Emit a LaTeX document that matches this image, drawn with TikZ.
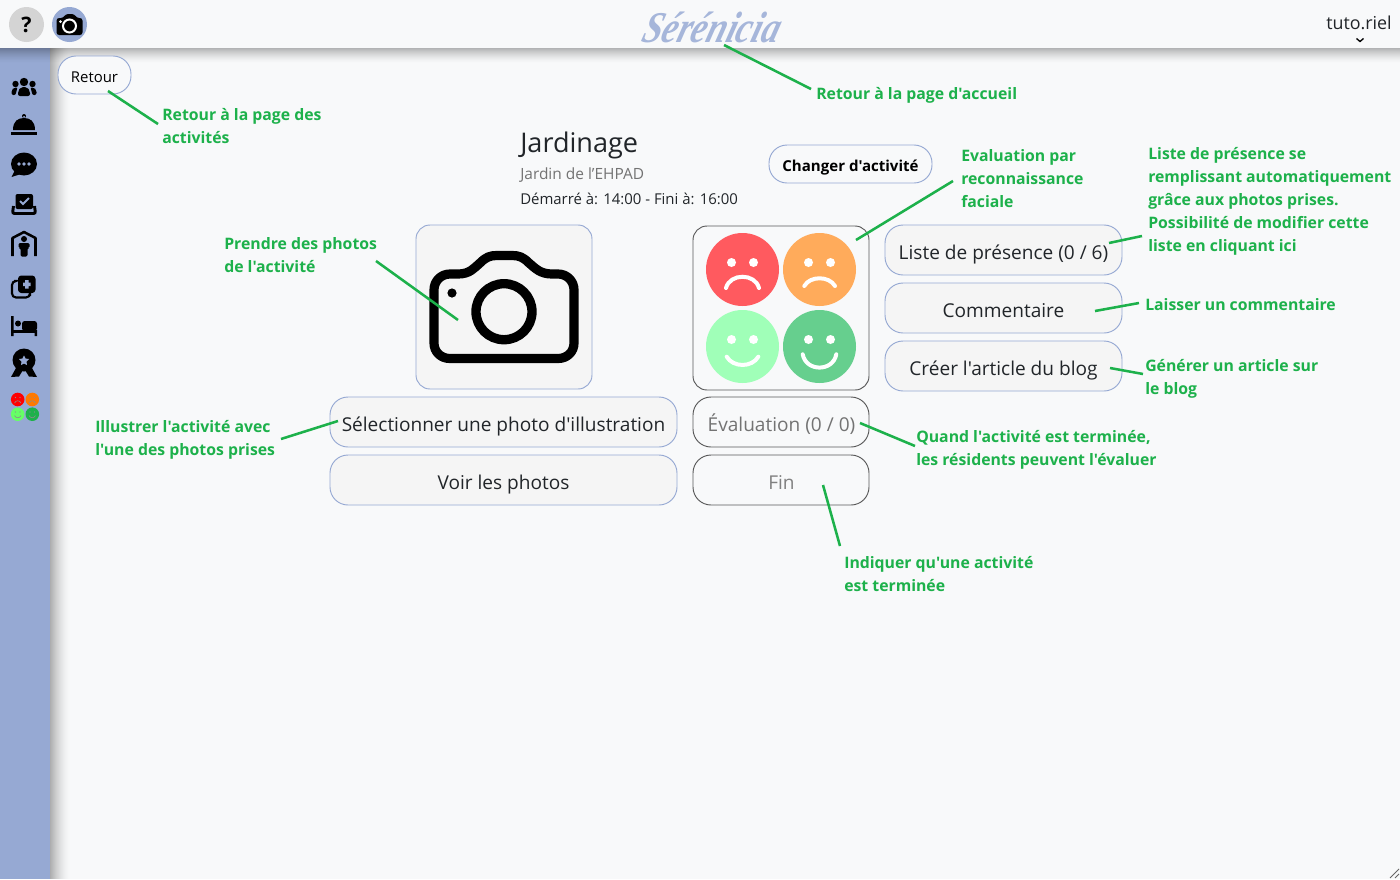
\documentclass[tikz,border=0pt]{standalone}
\usepackage{fontspec}
\newfontfamily\mainf{Open Sans}
\newfontfamily\logofont{Liberation Serif}
\definecolor{bgc}{HTML}{F8F9FA}
\definecolor{blu}{HTML}{96A9D3}
\definecolor{grn}{HTML}{1DB14B}
\definecolor{btn}{HTML}{F5F5F5}
\definecolor{dk}{HTML}{212529}
\definecolor{fr}{HTML}{FF5A5F}
\definecolor{fo}{HTML}{FFAB5B}
\definecolor{fl}{HTML}{A0FFB8}
\definecolor{fg}{HTML}{66CF8E}
\tikzset{
 x=.75pt,y=-.75pt,
 btnbox/.style={draw=blu,fill=btn,line width=.7pt,rounded corners=13.5pt},
 greybox/.style={draw=black!65,fill=bgc,line width=.7pt,rounded corners=13.5pt},
 note/.style={text=grn,font=\mainf\fontsize{11.85pt}{17.25pt}\selectfont\bfseries,anchor=north west,align=left,inner sep=0pt},
 lbl/.style={text=dk,anchor=base,font=\mainf\fontsize{14.3pt}{18pt}\selectfont,inner sep=0pt},
 conn/.style={draw=grn,line width=1.9pt},
 ic/.style={fill=black,draw=none},
 face/.style={draw=white,fill=none,line width=3pt,line cap=round},
 mini/.style={draw=black!45,fill=none,line width=.45pt},
}
\begin{document}
\begin{tikzpicture}
\useasboundingbox (0,0) rectangle (1400,879);
\fill[bgc] (0,0) rectangle (1400,879);
\fill[blu] (0,48) rectangle (50,879);
% shadows
\foreach \i in {0,...,19}{\pgfmathsetmacro\o{0.30*(1-\i/20)^1.6}\fill[black,opacity=\o] (50+\i,48) rectangle (51+\i,879);}
\foreach \i in {0,...,14}{\pgfmathsetmacro\o{0.28*(1-\i/15)^1.5}\fill[black,opacity=\o] (0,48+\i) rectangle (1400,49+\i);}
% top bar
\node[circle,fill=black!17,minimum size=26.25pt,inner sep=0pt,font=\mainf\fontsize{16pt}{16pt}\selectfont\bfseries] (help) at (26.5,24.5) {?};
\fill[blu] (69.5,24.5) circle[radius=17.5];
\begin{scope}[shift={(69.5,25)}]
\fill[black,rounded corners=2pt] (-13,-7) -- (-6,-7) -- (-4,-11) -- (5,-11) -- (7,-7) -- (13,-7) -- (13,10) -- (-13,10) -- cycle;
\draw[white,line width=1.5pt] (0,1) circle[radius=6.5];
\fill[white] (-9,-3.5) circle[radius=1.5];
\end{scope}
\node[inner sep=0pt,text=blu!85!white,font=\logofont\fontsize{33pt}{33pt}\selectfont\itshape\bfseries,xslant=.3,xscale=.8] (logo) at (713,27) {Sérénicia};
\node[inner sep=0pt,anchor=base east,text=dk,font=\mainf\fontsize{13.4pt}{16pt}\selectfont] (user) at (1392,29) {tuto.riel};
\draw[black,line width=1pt] (1356.5,38.5) -- (1360,41.5) -- (1363.5,38.5);
% sidebar icons
\begin{scope}[shift={(24,88)}]
\fill[ic] (0,-6) circle[radius=4.2] (-8.5,-4) circle[radius=3.2] (8.5,-4) circle[radius=3.2];
\fill[ic,rounded corners=1.5pt] (-6,8) -- (-6,3) -- (-3,-1) -- (3,-1) -- (6,3) -- (6,8) -- cycle;
\fill[ic,rounded corners=1.5pt] (-12.5,7) -- (-12.5,2) -- (-10,-.5) -- (-6,-.5) -- (-8,3) -- (-8,7) -- cycle;
\fill[ic,rounded corners=1.5pt] (12.5,7) -- (12.5,2) -- (10,-.5) -- (6,-.5) -- (8,3) -- (8,7) -- cycle;
\end{scope}
\begin{scope}[shift={(24,124)}]
\fill[ic] (0,-8) circle[radius=2] (-1,-8) rectangle (1,-5);
\fill[ic] (-11,6) .. controls (-11,-3) and (-6,-6) .. (0,-6) .. controls (6,-6) and (11,-3) .. (11,6) -- cycle;
\fill[ic] (-13,8) rectangle (13,10.5);
\end{scope}
\begin{scope}[shift={(24,165)}]
\fill[ic] (0,-1) ellipse[x radius=13,y radius=11.5];
\fill[ic] (-9,5) -- (-12.5,12) -- (-3,9) -- cycle;
\fill[blu] (-5,-1) circle[radius=1.8] (0,-1) circle[radius=1.8] (5,-1) circle[radius=1.8];
\end{scope}
\begin{scope}[shift={(24,204)}]
\fill[ic,rounded corners=1.5pt] (-8.5,-10) rectangle (9,5);
\draw[blu,line width=1.5pt] (-4,-3) -- (-1,0) -- (5,-6);
\draw[black,line width=2.2pt,rounded corners=1.5pt] (-10.5,2) -- (-11.5,9.5) -- (11.5,9.5) -- (10.5,2);
\end{scope}
\begin{scope}[shift={(24,245)}]
\draw[black,line width=1.9pt,line join=round] (-11.5,11) -- (-11.5,-7) -- (0,-13) -- (11.5,-7) -- (11.5,11);
\fill[ic] (0,-6) circle[radius=3];
\fill[ic,rounded corners=1pt] (-5.5,-2) -- (5.5,-2) -- (5.5,3) -- (3.5,3) -- (3.5,11.5) -- (-3.5,11.5) -- (-3.5,3) -- (-5.5,3) -- cycle;
\end{scope}
\begin{scope}[shift={(24,287)}]
\fill[ic,rounded corners=2.5pt] (-6,-11.5) rectangle (11.5,6);
\fill[blu] (-1,-4.5) rectangle (6.5,-1) (1,-7) rectangle (4.5,1.5);
\draw[black,line width=1.6pt,rounded corners=3pt] (-10,-6) -- (-12,-6) -- (-12,10.5) -- (6,10.5) -- (6,9);
\end{scope}
\begin{scope}[shift={(24,326)}]
\fill[ic] (-13,-10) rectangle (-10.5,10) (10.5,4) rectangle (13,10);
\fill[ic] (-13,3.5) rectangle (13,7);
\fill[ic,rounded corners=2pt] (-2,-5) rectangle (13,5);
\fill[ic] (-6,-2.5) circle[radius=3];
\end{scope}
\begin{scope}[shift={(24,365)}]
\fill[ic] (0,-5) circle[radius=11.5];
\fill[ic] (-8,3) -- (-13,12) -- (-5,11.5) -- (-1,5) -- cycle (8,3) -- (13,12) -- (5,11.5) -- (1,5) -- cycle;
\fill[blu] (0,-9.5) -- (1.6,-6.5) -- (5,-6) -- (2.5,-3.5) -- (3,0) -- (0,-1.5) -- (-3,0) -- (-2.5,-3.5) -- (-5,-6) -- (-1.6,-6.5) -- cycle;
\end{scope}
\fill[red] (17.7,399.5) circle[radius=6.8];
\fill[orange!95!red] (32.3,399.5) circle[radius=6.8];
\fill[green!60!white] (17.7,414.2) circle[radius=6.8];
\fill[grn] (32.3,414.2) circle[radius=6.8];
\draw[mini] (14.5,403) .. controls (16,400) and (19.5,400) .. (21,403);
\draw[mini] (29,403) .. controls (30.5,400) and (34,400) .. (35.5,403);
\draw[mini] (14.5,415.5) .. controls (16,418.5) and (19.5,418.5) .. (21,415.5);
\draw[mini] (29,415.5) .. controls (30.5,418.5) and (34,418.5) .. (35.5,415.5);
\fill[black!45] (15.5,397.5) circle[radius=.7] (20,397.5) circle[radius=.7] (30,397.5) circle[radius=.7] (34.5,397.5) circle[radius=.7] (15.5,412) circle[radius=.7] (20,412) circle[radius=.7] (30,412) circle[radius=.7] (34.5,412) circle[radius=.7];
% buttons
\draw[btnbox,fill=bgc] (58,56) rectangle (131,94);
\node[inner sep=0pt,anchor=base,text=black,font=\mainf\fontsize{11.2pt}{14pt}\selectfont] (retour) at (94.5,82) {Retour};
\node[inner sep=0pt,anchor=base west,text=dk,font=\mainf\fontsize{20.3pt}{24pt}\selectfont] (titre) at (520,152) {Jardinage};
\node[inner sep=0pt,anchor=base west,text=black!55,font=\mainf\fontsize{11.6pt}{14pt}\selectfont] (lieu) at (520,179) {Jardin de l’EHPAD};
\node[inner sep=0pt,anchor=base west,text=dk,font=\mainf\fontsize{11.2pt}{14pt}\selectfont] (heure) at (520,204) {Démarré à: 14:00 - Fini à: 16:00};
\draw[btnbox,fill=bgc] (769,145) rectangle (932,183);
\node[inner sep=0pt,anchor=base,text=black,font=\mainf\fontsize{11.3pt}{14pt}\selectfont\bfseries] (change) at (850.5,171) {Changer d'activité};
\draw[btnbox,rounded corners=10.5pt] (416,225) rectangle (592,389);
\draw[black,line width=6.9pt,line join=round] (434,290) .. controls (434,281) and (441,274) .. (450,274) -- (458,274) .. controls (470,274) and (474,268) .. (480,263) .. controls (486,257) and (490,255.5) .. (497,255.5) -- (512,255.5) .. controls (519,255.5) and (523,257) .. (529,263) .. controls (535,268) and (540,274) .. (552,274) -- (558,274) .. controls (567,274) and (574,281) .. (574,290) -- (574,343) .. controls (574,352) and (567,358.5) .. (558,358.5) -- (450,358.5) .. controls (441,358.5) and (434,352) .. (434,343) -- cycle;
\draw[black,line width=7pt] (504,311.7) circle[radius=28];
\fill[black] (452,293) circle[radius=4.6];
\draw[btnbox] (330,397) rectangle (677,447);
\node[lbl] (sel) at (503.5,431) {Sélectionner une photo d'illustration};
\draw[btnbox] (330,455) rectangle (677,505);
\node[lbl] (voir) at (503.5,489) {Voir les photos};
\draw[greybox,rounded corners=10.5pt] (693,226) rectangle (869,390);
\fill[fr] (742.5,269.5) circle[radius=36.5];
\fill[fo] (819.5,269.5) circle[radius=36.5];
\fill[fl] (742.5,346.5) circle[radius=36.5];
\fill[fg] (819.5,346.5) circle[radius=36.5];
\fill[white] (731.5,262.5) circle[radius=4.5] (753.5,262.5) circle[radius=4.5] (808.5,262.5) circle[radius=4.5] (830.5,262.5) circle[radius=4.5] (731.5,339.5) circle[radius=4.5] (753.5,339.5) circle[radius=4.5] (808.5,339.5) circle[radius=4.5] (830.5,339.5) circle[radius=4.5];
\draw[face] (726,288) .. controls (730,273) and (755,273) .. (759,288);
\draw[face] (804.3,286) .. controls (810,275.7) and (829,275.7) .. (835,286);
\draw[face] (726.7,356.7) .. controls (733,367.7) and (752,367.7) .. (758.3,356.7);
\draw[face] (802.7,354.3) .. controls (806,372) and (833,372) .. (836.3,354.3);
\draw[greybox] (693,397) rectangle (869,447);
\node[lbl,text=black!55] (eval) at (781.5,431) {Évaluation (0 / 0)};
\draw[greybox] (693,455) rectangle (869,505);
\node[lbl,text=black!50] (fin) at (781.5,489) {Fin};
\draw[btnbox] (885,225) rectangle (1122,275);
\node[lbl] (liste) at (1003.5,259) {Liste de présence (0 / 6)};
\draw[btnbox] (885,283) rectangle (1122,333);
\node[lbl] (comm) at (1003.5,317) {Commentaire};
\draw[btnbox] (885,341) rectangle (1122,391);
\node[lbl] (blog) at (1003.5,375) {Créer l'article du blog};
% notes
\node[note] (n1) at (162,108) {Retour à la page des\\activités};
\node[note] (n2) at (816,87) {Retour à la page d'accueil};
\node[note] (n3) at (961,149) {Evaluation par\\reconnaissance\\faciale};
\node[note] (n4) at (1148,147) {Liste de présence se\\remplissant automatiquement\\grâce aux photos prises.\\Possibilité de modifier cette\\liste en cliquant ici};
\node[note] (n5) at (224,237) {Prendre des photos\\de l'activité};
\node[note] (n6) at (1145,298) {Laisser un commentaire};
\node[note] (n7) at (1145,359) {Générer un article sur\\le blog};
\node[note] (n8) at (95,420) {Illustrer l'activité avec\\l'une des photos prises};
\node[note] (n9) at (916,430) {Quand l'activité est terminée,\\les résidents peuvent l'évaluer};
\node[note] (n10) at (844,556) {Indiquer qu'une activité\\est terminée};
% connectors
\coordinate (a1) at (158,124); \coordinate (b1) at (108,91);
\coordinate (a2) at (811,89); \coordinate (b2) at (724,45);
\coordinate (a3) at (953,181); \coordinate (b3) at (856,240);
\coordinate (a4) at (1142,236); \coordinate (b4) at (1109,243);
\coordinate (a5) at (376,261); \coordinate (b5) at (458,320);
\coordinate (a6) at (1139,303); \coordinate (b6) at (1095,311);
\coordinate (a7) at (1143,374); \coordinate (b7) at (1110,368);
\coordinate (a8) at (281,439); \coordinate (b8) at (338,421);
\coordinate (a9) at (915,446); \coordinate (b9) at (860,423);
\coordinate (a10) at (840,546); \coordinate (b10) at (823,485);
\foreach \k in {1,...,10}{\draw[conn] (a\k) -- (b\k);}
% resize grip
\draw[black!60,line width=.6pt] (1390,878) -- (1399,869) (1395,878) -- (1399,874);
\end{tikzpicture}
\end{document}
